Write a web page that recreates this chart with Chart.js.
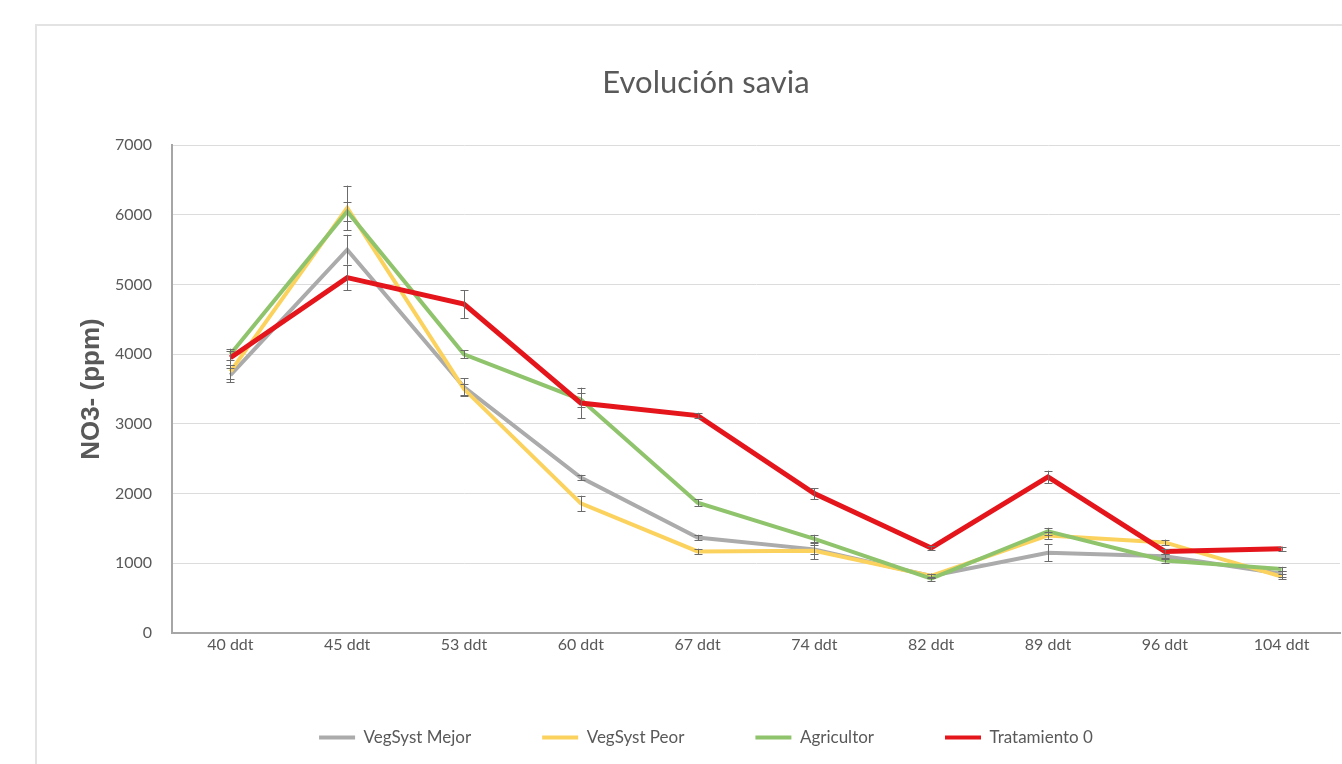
<!DOCTYPE html>
<html>
<head>
<meta charset="utf-8">
<script src="https://cdn.jsdelivr.net/npm/chart.js@4"></script>
<style>
    html, body { margin: 0; padding: 0; background: #fff; overflow: hidden; }
    #card {
        position: absolute; left: 35px; top: 24px;
        width: 1400px; height: 800px;
        border: 2px solid #e3e3e3; box-sizing: border-box;
    }
    #chart { position: absolute; left: 0; top: 0; }
</style>
</head>
<body>
<div id="card"></div>
<canvas id="chart" width="1412" height="764"></canvas>
<script>
// Chart data
const labels = ['40 ddt', '45 ddt', '53 ddt', '60 ddt', '67 ddt', '74 ddt', '82 ddt', '89 ddt', '96 ddt', '104 ddt'];
const mejor = [3700, 5500, 3530, 2230, 1370, 1200, 820, 1150, 1100, 850];
const peor = [3750, 6100, 3500, 1860, 1170, 1180, 820, 1400, 1300, 810];
const agricultor = [4000, 6050, 4000, 3350, 1870, 1350, 780, 1460, 1040, 920];
const trat0 = [3950, 5100, 4720, 3300, 3120, 2000, 1220, 2240, 1170, 1210];

const errMejor = [100, 215, 125, 40, 40, 60, 30, 120, 40, 40];
const errPeor = [100, 320, 80, 110, 40, 120, 30, 50, 40, 40];
const errAgric = [80, 140, 55, 100, 50, 60, 30, 50, 30, 30];
const errTrat = [100, 180, 200, 220, 40, 80, 30, 90, 30, 30];

const yTicks = [0, 1000, 2000, 3000, 4000, 5000, 6000, 7000];

const FONT = "Lato, Roboto, sans-serif";
const TEXT = '#595959';

const series = [
    { label: 'VegSyst Mejor', data: mejor, err: errMejor, color: '#ababab', width: 4, order: 3 },
    { label: 'VegSyst Peor', data: peor, err: errPeor, color: '#fcd25e', width: 4, order: 2 },
    { label: 'Agricultor', data: agricultor, err: errAgric, color: '#8fc46c', width: 4, order: 1 },
    { label: 'Tratamiento 0', data: trat0, err: errTrat, color: '#e5151c', width: 5, order: 0 },
];

/**
 * Draw error bars from each dataset's err array
 */
const errorBars = {
    id: 'errorBars',
    afterDatasetsDraw(chart) {
        const ctx = chart.ctx;
        const y = chart.scales.y;
        ctx.save();
        ctx.strokeStyle = '#6b6b6b';
        ctx.lineWidth = 1;
        chart.data.datasets.forEach((ds, i) => {
            const meta = chart.getDatasetMeta(i);
            meta.data.forEach((pt, j) => {
                const e = ds.err[j];
                const top = y.getPixelForValue(ds.data[j] + e);
                const bot = y.getPixelForValue(ds.data[j] - e);
                const x = Math.round(pt.x) + 0.5;
                ctx.beginPath();
                ctx.moveTo(x, top);
                ctx.lineTo(x, bot);
                ctx.moveTo(x - 4, Math.round(top) + 0.5);
                ctx.lineTo(x + 4, Math.round(top) + 0.5);
                ctx.moveTo(x - 4, Math.round(bot) + 0.5);
                ctx.lineTo(x + 4, Math.round(bot) + 0.5);
                ctx.stroke();
            });
        });
        ctx.restore();
    }
};

new Chart(document.getElementById('chart'), {
    type: 'line',
    data: {
        labels: labels,
        datasets: series.map(s => ({
            label: s.label,
            data: s.data,
            err: s.err,
            borderColor: s.color,
            backgroundColor: s.color,
            borderWidth: s.width,
            pointRadius: 0,
            tension: 0,
            order: s.order,
        })),
    },
    options: {
        responsive: false,
        animation: false,
        layout: { padding: { left: 0, right: 0, top: 0, bottom: 8 } },
        plugins: {
            title: {
                display: true,
                text: 'Evolución savia',
                color: TEXT,
                font: { family: FONT, size: 31, weight: 'normal' },
                padding: { top: 64, bottom: 44 },
            },
            legend: {
                position: 'bottom',
                labels: {
                    color: TEXT,
                    font: { family: FONT, size: 17 },
                    boxWidth: 36,
                    boxHeight: 4,
                    padding: 71,
                    generateLabels: (chart) => series.map((s, i) => ({
                        text: s.label,
                        fillStyle: s.color,
                        strokeStyle: s.color,
                        lineWidth: 0,
                        fontColor: TEXT,
                        datasetIndex: i,
                        hidden: false,
                    })),
                },
            },
            tooltip: { enabled: false },
        },
        scales: {
            x: {
                offset: true,
                grid: { display: false },
                border: { color: '#a6a6a6', width: 2 },
                ticks: { color: TEXT, font: { family: FONT, size: 16 }, padding: -6, maxRotation: 0 },
                afterFit: (s) => { s.height = 25; },
            },
            y: {
                min: 0,
                max: 7000,
                afterBuildTicks: (s) => { s.ticks = yTicks.map(v => ({ value: v })); },
                grid: { color: '#dcdcdc', lineWidth: 1, drawTicks: false },
                border: { color: '#a6a6a6', width: 2 },
                ticks: { color: TEXT, font: { family: FONT, size: 16 }, padding: 20, callback: (v) => String(v) },
                title: {
                    display: true,
                    text: 'NO3- (ppm)',
                    color: TEXT,
                    font: { family: "'Liberation Sans', Arial, sans-serif", size: 26, weight: 'bold' },
                    padding: { top: 76, bottom: 0 },
                },
                afterFit: (s) => { s.width = 172; },
            },
            // empty right box so the plot ends at x=1340 while title and legend stay centred on the card
            spacer: {
                position: 'right',
                grid: { display: false },
                border: { display: false },
                ticks: { display: false },
                afterFit: (s) => { s.width = 72; },
            },
        },
    },
    plugins: [errorBars],
});
</script>
</body>
</html>
